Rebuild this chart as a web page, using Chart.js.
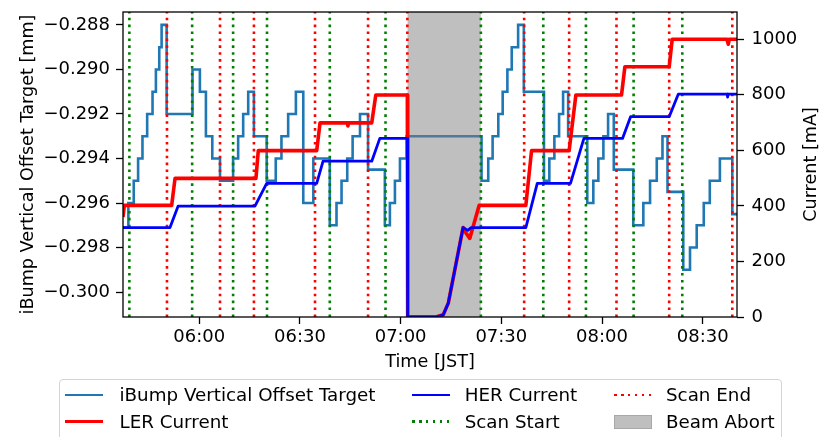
<!DOCTYPE html>
<html>
<head>
<meta charset="utf-8">
<script src="https://cdn.jsdelivr.net/npm/chart.js@4.4.1/dist/chart.umd.min.js"></script>
<style>
  html, body { margin: 0; padding: 0; background: #fff; }
  #wrap { position: relative; width: 823px; height: 437px; overflow: hidden; font-family: 'DejaVu Sans', sans-serif; }
  #chart { position: absolute; left: 0; top: 0; }
  #legend-box { position: absolute; left: 59px; top: 379px; width: 723px; height: 70px; box-sizing: border-box;
    border: 1px solid #d4d4d4; border-radius: 4px; background: rgba(255,255,255,0.8); }
  .lbl { position: absolute; font-size: 18.3px; line-height: 21px; color: #000; white-space: nowrap; }
  .hnd { position: absolute; width: 38px; height: 2.6px; }
</style>
</head>
<body>
<div id="wrap">
  <canvas id="chart" width="823" height="437"></canvas>
  <div id="legend-box"></div>
  <div id="legend"></div>
</div>
<script>
// --- DATA (times in minutes after midnight, JST) ---
const ibumpTimes = [337.3, 338.9, 340.5, 341.8, 343.1, 344.5, 346.1, 347.1, 348.1, 348.8,
  350.3, 358.0, 360.2, 362.0, 363.9, 366.2, 370.1, 371.6, 373.1, 374.6,
  376.3, 380.1, 382.8, 384.5, 386.5, 388.8, 391.0, 394.0, 398.9, 400.9,
  402.4, 404.1, 405.7, 407.9, 410.3, 415.3, 416.8, 418.3, 419.8, 421.8,
  444.1, 446.1, 447.4, 449.1, 450.4, 451.8, 453.1, 455.0, 456.7, 462.7,
  464.3, 465.8, 467.2, 468.4, 469.9, 475.6, 477.4, 478.9, 480.4, 481.8,
  483.5, 489.3, 492.3, 494.3, 496.3, 498.0, 499.5, 504.2, 506.2, 508.2,
  510.3, 512.1, 515.1, 518.8, 520.2];
const ibumpValues = [-0.2971, -0.296, -0.295, -0.294, -0.293, -0.292, -0.291, -0.290, -0.289, -0.288,
  -0.292, -0.290, -0.291, -0.293, -0.294, -0.295, -0.294, -0.293, -0.292, -0.291,
  -0.293, -0.295, -0.294, -0.293, -0.292, -0.291, -0.296, -0.294, -0.297, -0.296,
  -0.295, -0.294, -0.293, -0.292, -0.2945, -0.297, -0.296, -0.295, -0.294, -0.293,
  -0.295, -0.294, -0.293, -0.292, -0.291, -0.290, -0.289, -0.288, -0.291, -0.295,
  -0.294, -0.293, -0.292, -0.291, -0.293, -0.296, -0.295, -0.294, -0.293, -0.292,
  -0.2945, -0.297, -0.296, -0.295, -0.294, -0.293, -0.2955, -0.299, -0.298, -0.297,
  -0.296, -0.295, -0.294, -0.2965, -0.2965];

const lerTimes = [337.3, 337.7, 351.8, 352.8, 376.9, 377.6, 395.0, 396.0, 404.1, 404.3,
  404.5, 411.4, 412.6, 422.0, 422.1, 430.5, 432.7, 434.2, 438.6, 439.3,
  440.6, 443.4, 457.3, 459.0, 470.2, 472.2, 485.8, 486.8, 500.0, 500.9,
  517.2, 517.6, 517.9, 520.2];
const lerValues = [360, 402, 402, 499, 499, 599, 599, 699, 699, 688,
  699, 699, 799, 799, 0, 0, 8, 50, 322, 305,
  283, 402, 402, 599, 599, 799, 799, 901, 901, 1000,
  1000, 982, 1000, 1000];

const herTimes = [337.3, 351.3, 353.7, 376.6, 380.1, 395.0, 396.9, 411.4, 413.8, 422.0,
  422.1, 430.5, 432.7, 434.2, 438.6, 440.0, 441.0, 457.3, 460.7, 470.6,
  474.6, 486.1, 488.5, 500.0, 502.7, 517.3, 517.4, 517.6, 520.2];
const herValues = [322, 322, 399, 399, 481, 481, 561, 561, 643, 643,
  0, 0, 8, 50, 322, 312, 322, 322, 481, 481,
  643, 643, 721, 721, 802, 802, 792, 802, 802];

const scanStartTimes = [339.2, 357.9, 370.1, 380.2, 398.9, 415.5, 443.9, 462.5, 475.2, 489.4, 503.9];
const scanEndTimes = [350.4, 366.2, 376.3, 394.5, 410.3, 422.0, 456.8, 470.2, 484.3, 500.0, 518.8];
const beamAbort = [422.0, 443.9];

const xTickValues = [360, 390, 420, 450, 480, 510];
const xTickLabels = ['06:00', '06:30', '07:00', '07:30', '08:00', '08:30'];
const yLeftTicks = [-0.300, -0.298, -0.296, -0.294, -0.292, -0.290, -0.288];
const yRightTicks = [0, 200, 400, 600, 800, 1000];

const xMin = 337.3, xMax = 520.2;
const yLeftMin = -0.30112, yLeftMax = -0.28742;
const yRightMax = 1098;

// --- HELPERS ---
const pairs = (xs, ys) => xs.map((x, i) => ({ x: x, y: ys[i] }));
function vlines(times) {
  const pts = [];
  times.forEach(t => { pts.push({ x: t, y: 0 }, { x: t, y: yRightMax }, { x: t, y: null }); });
  return pts;
}
const fmtMinus = v => (v < 0 ? '\u2212' : '') + Math.abs(v).toFixed(3);

Chart.defaults.font.family = "'DejaVu Sans', sans-serif";
Chart.defaults.font.size = 18;
Chart.defaults.color = '#000';

const titleFont = { size: 17.6 };
const tickGrid = { drawOnChartArea: false, drawTicks: true, tickLength: 7, tickColor: '#000', tickWidth: 1.3 };

const framePlugin = {
  id: 'frame',
  afterDatasetsDraw(chart) {
    const { ctx, chartArea: a } = chart;
    ctx.save();
    ctx.strokeStyle = '#000';
    ctx.lineWidth = 1.3;
    ctx.strokeRect(a.left, a.top, a.right - a.left, a.bottom - a.top);
    ctx.restore();
  },
  afterDraw(chart) {
    // right axis title, reading bottom to top like the left one
    const { ctx, chartArea: a } = chart;
    ctx.save();
    ctx.translate(chart.width - 11.5, (a.top + a.bottom) / 2);
    ctx.rotate(-Math.PI / 2);
    ctx.font = "17.6px 'DejaVu Sans'";
    ctx.fillStyle = '#000';
    ctx.textAlign = 'center';
    ctx.textBaseline = 'middle';
    ctx.fillText('Current [mA]', 0, 0);
    ctx.restore();
  }
};

new Chart(document.getElementById('chart'), {
  type: 'line',
  data: {
    datasets: [
      {
        label: 'iBump Vertical Offset Target',
        data: pairs(ibumpTimes, ibumpValues),
        yAxisID: 'y',
        stepped: true,
        borderColor: '#1f77b4',
        borderWidth: 2.6,
        pointRadius: 0,
        order: 6
      },
      {
        label: 'Beam Abort',
        data: [{ x: beamAbort[0], y: yRightMax }, { x: beamAbort[1], y: yRightMax }],
        yAxisID: 'y2',
        fill: 'start',
        backgroundColor: 'rgba(128,128,128,0.5)',
        borderColor: 'rgba(0,0,0,0)',
        borderWidth: 1,
        pointRadius: 0,
        order: 5
      },
      {
        label: 'Scan Start',
        data: vlines(scanStartTimes),
        yAxisID: 'y2',
        borderColor: '#008000',
        borderWidth: 2.6,
        borderDash: [2.6, 4.3],
        pointRadius: 0,
        spanGaps: false,
        order: 4
      },
      {
        label: 'Scan End',
        data: vlines(scanEndTimes),
        yAxisID: 'y2',
        borderColor: '#ff0000',
        borderWidth: 2.6,
        borderDash: [2.6, 4.3],
        pointRadius: 0,
        spanGaps: false,
        order: 4
      },
      {
        label: 'LER Current',
        data: pairs(lerTimes, lerValues),
        yAxisID: 'y2',
        borderColor: '#ff0000',
        borderWidth: 3.6,
        borderJoinStyle: 'round',
        pointRadius: 0,
        order: 3
      },
      {
        label: 'HER Current',
        data: pairs(herTimes, herValues),
        yAxisID: 'y2',
        borderColor: '#0000ff',
        borderWidth: 2.8,
        borderJoinStyle: 'round',
        pointRadius: 0,
        order: 2
      }
    ]
  },
  options: {
    responsive: false,
    animation: false,
    events: [],
    layout: { padding: { top: 12, bottom: 60, left: 0, right: 0 } },
    plugins: { legend: { display: false }, tooltip: { enabled: false } },
    scales: {
      x: {
        type: 'linear',
        min: xMin,
        max: xMax,
        grid: tickGrid,
        border: { display: false },
        ticks: {
          padding: 2.5,
          maxRotation: 0,
          autoSkip: false,
          callback: v => xTickLabels[xTickValues.indexOf(v)]
        },
        afterBuildTicks: s => { s.ticks = xTickValues.map(v => ({ value: v })); },
        title: { display: true, text: 'Time [JST]', font: titleFont, padding: { top: 0, bottom: 4.5 } },
        afterFit: s => { s.height = 60; s.paddingLeft = 0; s.paddingRight = 0; }
      },
      y: {
        position: 'left',
        min: yLeftMin,
        max: yLeftMax,
        grid: tickGrid,
        border: { display: false },
        ticks: { padding: 6, callback: v => fmtMinus(v) },
        afterBuildTicks: s => { s.ticks = yLeftTicks.map(v => ({ value: v })); },
        title: { display: true, text: 'iBump Vertical Offset Target [mm]', font: titleFont, padding: { top: 17.5, bottom: 0 } },
        afterFit: s => { s.width = 123; s.paddingTop = 0; s.paddingBottom = 0; }
      },
      y2: {
        position: 'right',
        min: 0,
        max: yRightMax,
        grid: tickGrid,
        border: { display: false },
        ticks: { padding: 7.5, callback: v => String(v) },
        afterBuildTicks: s => { s.ticks = yRightTicks.map(v => ({ value: v })); },
        afterFit: s => { s.width = 86; s.paddingTop = 0; s.paddingBottom = 0; }
      }
    }
  },
  plugins: [framePlugin]
});

// --- LEGEND (three columns, filled column by column) ---
const legendItems = [
  { text: 'iBump Vertical Offset Target', kind: 'line', color: '#1f77b4', hx: 65, tx: 119.5, cy: 395 },
  { text: 'LER Current', kind: 'line', color: '#ff0000', hx: 65, tx: 119.5, cy: 421.7 },
  { text: 'HER Current', kind: 'line', color: '#0000ff', hx: 412, tx: 464.7, cy: 395 },
  { text: 'Scan Start', kind: 'dots', color: '#008000', hx: 412, tx: 464.7, cy: 421.7 },
  { text: 'Scan End', kind: 'dots', color: '#ff0000', hx: 614, tx: 666, cy: 395 },
  { text: 'Beam Abort', kind: 'patch', color: '#bfbfbf', hx: 614, tx: 666, cy: 421.7 }
];
const legendEl = document.getElementById('legend');
legendItems.forEach(it => {
  const h = document.createElement('div');
  h.className = 'hnd';
  h.style.left = it.hx + 'px';
  if (it.kind === 'line') {
    h.style.top = (it.cy - 1.3) + 'px';
    h.style.background = it.color;
  } else if (it.kind === 'dots') {
    h.style.top = (it.cy - 1.3) + 'px';
    h.style.background = `repeating-linear-gradient(to right, ${it.color} 0 2.6px, transparent 2.6px 6.9px)`;
  } else {
    h.style.top = (it.cy - 7) + 'px';
    h.style.height = '14px';
    h.style.boxSizing = 'border-box';
    h.style.background = it.color;
    h.style.border = '1px solid #a8a8a8';
  }
  legendEl.appendChild(h);
  const t = document.createElement('div');
  t.className = 'lbl';
  t.style.left = it.tx + 'px';
  t.style.top = (it.cy - 11) + 'px';
  t.textContent = it.text;
  legendEl.appendChild(t);
});
</script>
</body>
</html>
